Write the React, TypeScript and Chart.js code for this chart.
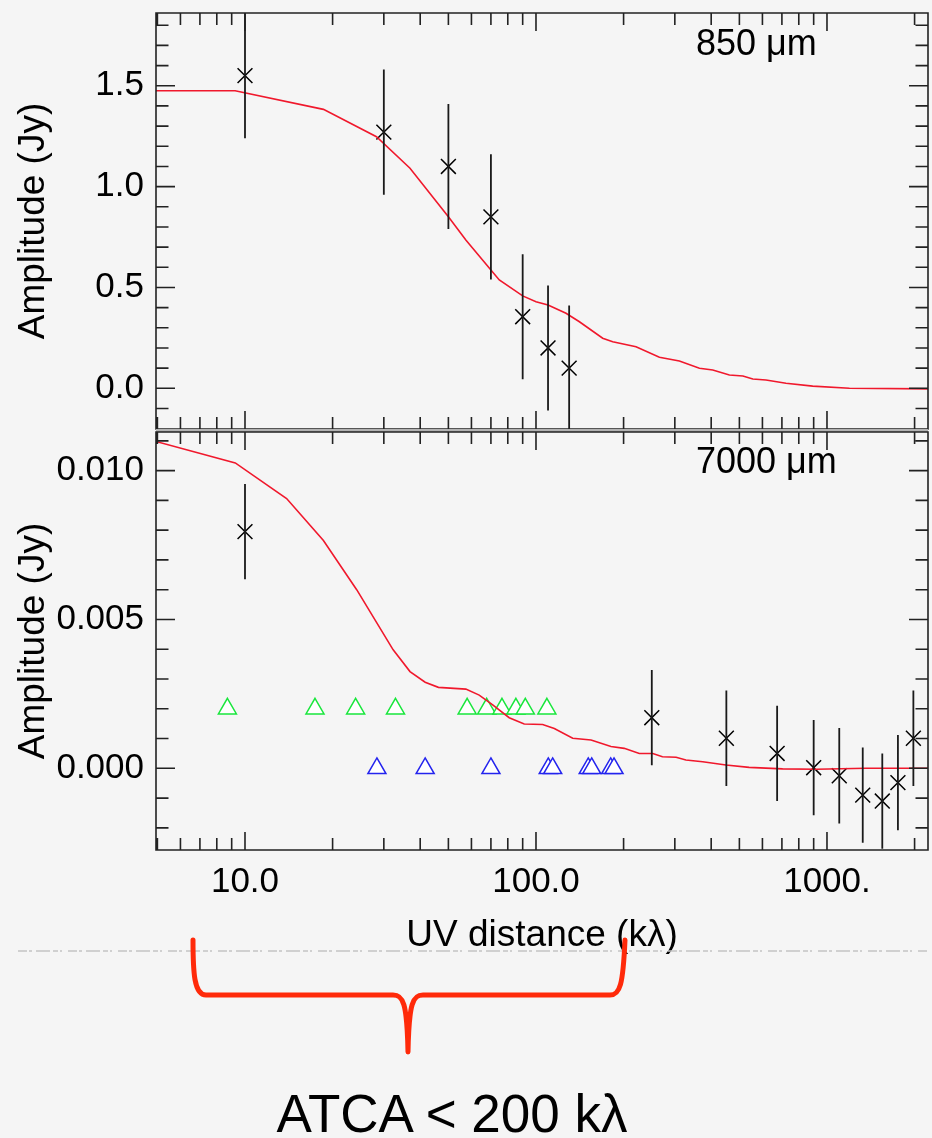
import React, { useEffect, useRef } from 'react';
import { Chart, registerables } from 'chart.js';

Chart.register(...registerables);

const FONT = "'Liberation Sans', Arial, Helvetica, sans-serif";
const RED = '#f0182c';
const GREEN = '#19e63c';
const BLUE = '#2424ee';

// UV-distance axis shared by both panels (kλ)
const uvMin = 4.945;
const uvMax = 2224;
const uvMajorTicks = [10, 100, 1000];
const uvMinorTicks = [5, 6, 7, 8, 9, 20, 30, 40, 50, 60, 70, 80, 90, 200, 300, 400, 500, 600, 700, 800, 900, 2000];
const uvTickLabels = ['10.0', '100.0', '1000.'];

// 850 µm visibilities
const submmUv = [10, 30, 50, 70, 90, 110, 130];
const submmAmp = [1.55, 1.27, 1.1, 0.85, 0.355, 0.2, 0.1];
const submmErr = [0.31, 0.31, 0.31, 0.31, 0.31, 0.31, 0.31];
const submmModelUv = [4.945, 9.25, 18.6, 28.3, 36.9, 50, 57.4, 70, 74.8, 90, 100, 110, 126.8, 141, 169.5, 183.5, 220.7, 265.5, 311, 364.5, 405, 462, 514, 556, 617, 723, 893, 1194, 2224];
const submmModelAmp = [1.475, 1.475, 1.383, 1.247, 1.091, 0.851, 0.735, 0.587, 0.537, 0.458, 0.429, 0.413, 0.372, 0.33, 0.248, 0.231, 0.206, 0.154, 0.135, 0.099, 0.091, 0.066, 0.061, 0.046, 0.041, 0.025, 0.011, 0.0, -0.003];
const submmYMin = -0.2018;
const submmYMax = 1.8607;
const submmYMajor = [0, 0.5, 1.0, 1.5];
const submmYMinor = [-0.1, 0.1, 0.2, 0.3, 0.4, 0.6, 0.7, 0.8, 0.9, 1.1, 1.2, 1.3, 1.4, 1.6, 1.7, 1.8];
const submmYLabels = ['0.0', '0.5', '1.0', '1.5'];

// 7000 µm visibilities
const cmUv = [10, 250, 451, 674, 900, 1102, 1327, 1549, 1753, 1981];
const cmAmp = [0.00795, 0.0017, 0.00101, 0.0005, 0.00002, -0.00025, -0.0009, -0.0011, -0.00048, 0.00101];
const cmErr = [0.0016, 0.0016, 0.0016, 0.0016, 0.0016, 0.0016, 0.0016, 0.0016, 0.0016, 0.0016];
const atcaGreenUv = [8.7, 17.4, 24.0, 32.9, 58, 67.7, 76.4, 85.3, 91.9, 109];
const atcaGreenAmp = [0.002, 0.002, 0.002, 0.002, 0.002, 0.002, 0.002, 0.002, 0.002, 0.002];
const atcaBlueUv = [28.4, 41.6, 70, 110.2, 114.1, 151.2, 155.4, 180.6, 185.4];
const atcaBlueAmp = [0, 0, 0, 0, 0, 0, 0, 0, 0];
const cmModelUv = [4.945, 9.26, 13.9, 18.6, 24.2, 32.3, 36.9, 41.6, 46.2, 57.4, 63.8, 71, 80.9, 91.1, 105.4, 115.6, 133.7, 154.6, 181, 201, 226.5, 252, 272, 303, 327.5, 374, 449.5, 540, 704, 917, 1361, 2224];
const cmModelAmp = [0.01098, 0.01026, 0.00906, 0.00765, 0.006, 0.00398, 0.00325, 0.00289, 0.00272, 0.00266, 0.00246, 0.00213, 0.0017, 0.00149, 0.00147, 0.00134, 0.00101, 0.00095, 0.00073, 0.00067, 0.0005, 0.0005, 0.00039, 0.00037, 0.00028, 0.00022, 0.00011, 0.00003, -0.00002, -0.00003, 0, 0];
const cmYMin = -0.002744;
const cmYMax = 0.011297;
const cmYMajor = [0, 0.005, 0.01];
const cmYMinor = [-0.002, -0.001, 0.001, 0.002, 0.003, 0.004, 0.006, 0.007, 0.008, 0.009, 0.011];
const cmYLabels = ['0.000', '0.005', '0.010'];

const pts = (xs: number[], ys: number[]) => xs.map((x, i) => ({ x, y: ys[i] }));
const findIdx = (arr: number[], v: number) => arr.findIndex((m) => Math.abs(m - v) < 1e-9);

const zeroPadding = (s: any) => {
  s.paddingTop = 0;
  s.paddingBottom = 0;
  s.paddingLeft = 0;
  s.paddingRight = 0;
};

// vertical error bars on a data series
function makeErrorBars(uv: number[], amp: number[], err: number[]) {
  return {
    id: 'errbars',
    afterDatasetsDraw(chart: any) {
      const { ctx, chartArea: a, scales } = chart;
      ctx.save();
      ctx.beginPath();
      ctx.rect(a.left, a.top, a.right - a.left, a.bottom - a.top);
      ctx.clip();
      ctx.strokeStyle = '#1a1a1a';
      ctx.lineWidth = 1.8;
      ctx.beginPath();
      uv.forEach((u, i) => {
        const px = scales.x.getPixelForValue(u);
        ctx.moveTo(px, scales.y.getPixelForValue(amp[i] + err[i]));
        ctx.lineTo(px, scales.y.getPixelForValue(amp[i] - err[i]));
      });
      ctx.stroke();
      ctx.restore();
    },
  };
}

// boxed frame with inward ticks on all four sides, plus the wavelength tag
function makeFrame(yMajor: number[], yMinor: number[], tag: string, tagX: number, tagY: number, band: boolean) {
  return {
    id: 'frame',
    afterDatasetsDraw(chart: any) {
      const { ctx, chartArea: a, scales } = chart;
      const xs = scales.x;
      const ys = scales.y;
      ctx.save();
      if (band) {
        ctx.fillStyle = '#b2b2b2';
        ctx.fillRect(a.left, a.top - 3, a.right - a.left, 3);
      }
      ctx.strokeStyle = '#222';
      ctx.lineWidth = 1.6;
      ctx.beginPath();
      ctx.rect(a.left, a.top, a.right - a.left, a.bottom - a.top);
      const xTick = (v: number, len: number) => {
        const p = xs.getPixelForValue(v);
        if (p < a.left - 0.5 || p > a.right + 0.5) return;
        ctx.moveTo(p, a.bottom);
        ctx.lineTo(p, a.bottom - len);
        ctx.moveTo(p, a.top);
        ctx.lineTo(p, a.top + len);
      };
      const yTick = (v: number, len: number) => {
        const p = ys.getPixelForValue(v);
        if (p < a.top - 0.5 || p > a.bottom + 0.5) return;
        ctx.moveTo(a.left, p);
        ctx.lineTo(a.left + len, p);
        ctx.moveTo(a.right, p);
        ctx.lineTo(a.right - len, p);
      };
      uvMajorTicks.forEach((v) => xTick(v, 18));
      uvMinorTicks.forEach((v) => xTick(v, 12));
      yMajor.forEach((v) => yTick(v, 19));
      yMinor.forEach((v) => yTick(v, 12.5));
      ctx.stroke();
      ctx.fillStyle = '#000';
      ctx.font = `36px ${FONT}`;
      ctx.textAlign = 'left';
      ctx.textBaseline = 'alphabetic';
      ctx.fillText(tag, tagX, tagY);
      ctx.restore();
    },
  };
}

const yScale = (min: number, max: number, major: number[], labels: string[]) => ({
  type: 'linear',
  min,
  max,
  afterBuildTicks: (s: any) => {
    s.ticks = major.map((v) => ({ value: v }));
  },
  afterFit: (s: any) => {
    s.width = 156;
    zeroPadding(s);
  },
  grid: { display: false, drawTicks: false },
  border: { display: false },
  ticks: {
    padding: 12,
    color: '#000',
    font: { family: FONT, size: 35 },
    callback: (v: number) => labels[findIdx(major, v)] ?? '',
  },
  title: {
    display: true,
    text: 'Amplitude (Jy)',
    color: '#000',
    font: { family: FONT, size: 37 },
    padding: { top: 12, bottom: 0 },
  },
});

const baseOptions = {
  animation: false,
  responsive: false,
  events: [],
  plugins: { legend: { display: false }, tooltip: { enabled: false } },
};

const crossStyle = {
  pointStyle: 'crossRot',
  pointRadius: 10.5,
  pointBorderColor: '#000',
  pointBorderWidth: 1.5,
  showLine: false,
};

const modelStyle = (data: any[]) => ({
  data,
  showLine: true,
  borderColor: RED,
  borderWidth: 1.6,
  pointRadius: 0,
  tension: 0,
});

const triStyle = (data: any[], color: string) => ({
  data,
  showLine: false,
  pointStyle: 'triangle',
  pointRadius: 10.4,
  pointBorderColor: color,
  pointBackgroundColor: '#ffffff',
  pointBorderWidth: 1.5,
});

function submmConfig(): any {
  return {
    type: 'scatter',
    data: {
      datasets: [modelStyle(pts(submmModelUv, submmModelAmp)), { data: pts(submmUv, submmAmp), ...crossStyle }],
    },
    options: {
      ...baseOptions,
      layout: { autoPadding: false, padding: { left: 0, right: 4, top: 13, bottom: 11 } },
      scales: {
        x: {
          type: 'logarithmic',
          min: uvMin,
          max: uvMax,
          display: false,
          ticks: { display: false },
          afterFit: zeroPadding,
        },
        y: yScale(submmYMin, submmYMax, submmYMajor, submmYLabels),
      },
    },
    plugins: [makeErrorBars(submmUv, submmAmp, submmErr), makeFrame(submmYMajor, submmYMinor, '850 μm', 696, 55, false)],
  };
}

function cmConfig(): any {
  return {
    type: 'scatter',
    data: {
      datasets: [
        modelStyle(pts(cmModelUv, cmModelAmp)),
        { data: pts(cmUv, cmAmp), ...crossStyle },
        triStyle(pts(atcaGreenUv, atcaGreenAmp), GREEN),
        triStyle(pts(atcaBlueUv, atcaBlueAmp), BLUE),
      ],
    },
    options: {
      ...baseOptions,
      layout: { autoPadding: false, padding: { left: 0, right: 4, top: 12, bottom: 0 } },
      scales: {
        x: {
          type: 'logarithmic',
          min: uvMin,
          max: uvMax,
          afterBuildTicks: (s: any) => {
            s.ticks = uvMajorTicks.map((v) => ({ value: v }));
          },
          afterFit: (s: any) => {
            s.height = 110;
            zeroPadding(s);
          },
          grid: { display: false, drawTicks: false },
          border: { display: false },
          ticks: {
            padding: 11.5,
            color: '#000',
            autoSkip: false,
            maxRotation: 0,
            font: { family: FONT, size: 35 },
            callback: (v: number) => uvTickLabels[findIdx(uvMajorTicks, v)] ?? '',
          },
          title: {
            display: true,
            text: 'UV distance (kλ)',
            color: '#000',
            font: { family: FONT, size: 37 },
            padding: { top: 0, bottom: 2.5 },
          },
        },
        y: yScale(cmYMin, cmYMax, cmYMajor, cmYLabels),
      },
    },
    plugins: [makeErrorBars(cmUv, cmAmp, cmErr), makeFrame(cmYMajor, cmYMinor, '7000 μm', 696, 53.3, true)],
  };
}

function Panel({ top, height, build }: { top: number; height: number; build: () => any }) {
  const ref = useRef<HTMLCanvasElement>(null);
  useEffect(() => {
    const chart = new Chart(ref.current as HTMLCanvasElement, build());
    return () => chart.destroy();
  }, [build]);
  return (
    <canvas
      ref={ref}
      width={932}
      height={height}
      style={{ position: 'absolute', left: 0, top, width: 932, height }}
    />
  );
}

export default function App() {
  return (
    <div
      style={{
        position: 'absolute',
        left: 0,
        top: 0,
        width: 932,
        height: 1138,
        background: '#f5f5f5',
        overflow: 'hidden',
      }}
    >
      <Panel top={0} height={440} build={submmConfig} />
      <Panel top={420} height={540} build={cmConfig} />
      <svg
        width={932}
        height={1138}
        style={{ position: 'absolute', left: 0, top: 0, pointerEvents: 'none' }}
      >
        <line
          x1={18}
          y1={951}
          x2={927}
          y2={951}
          stroke="#c4c4c4"
          strokeWidth={1.5}
          strokeDasharray="9 2 3 4 14 3 5 2 2 6"
        />
        <path
          d="M193,940 C193,972 194,995 206,995 L393,995 C403,995 407,1002 408,1052 C409,1002 413,995 423,995 L610,995 C620,995 623,985 625,940"
          fill="none"
          stroke="#ff2a0a"
          strokeWidth={5}
          strokeLinecap="round"
          strokeLinejoin="round"
        />
        <text
          x={452}
          y={1132}
          textAnchor="middle"
          fontFamily={FONT}
          fontSize={53}
          fill="#000"
        >
          {'ATCA < 200 kλ'}
        </text>
      </svg>
    </div>
  );
}
